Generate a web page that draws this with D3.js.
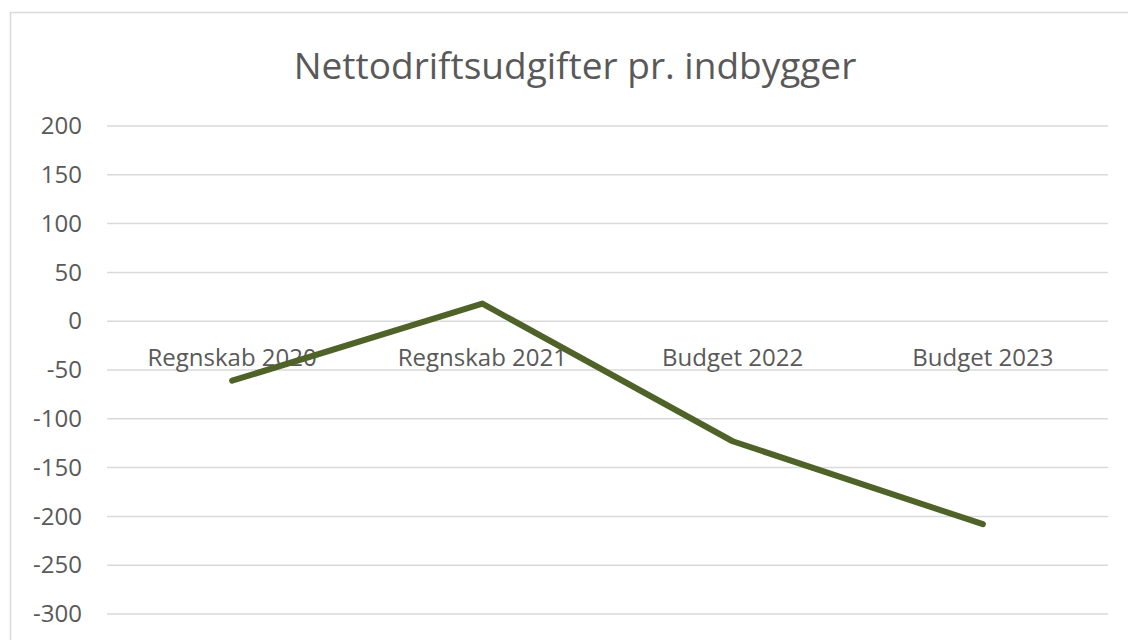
<!DOCTYPE html>
<html>
<head>
<meta charset="utf-8">
<script src="https://cdn.jsdelivr.net/npm/d3@7"></script>
<style>
  body { margin: 0; background: #fff; }
  text { font-family: "Open Sans", "Noto Sans", sans-serif; fill: #595959; }
</style>
</head>
<body>
<div id="chart"></div>
<script>
// data
var categories = ["Regnskab 2020", "Regnskab 2021", "Budget 2022", "Budget 2023"];
var values = [-61, 18, -123, -208];
var yTicks = [200, 150, 100, 50, 0, -50, -100, -150, -200, -250, -300];
var title = "Nettodriftsudgifter pr. indbygger";

var width = 1128,
    height = 640;
var margin = {top: 126, right: 20, bottom: 26, left: 107};
var plotW = 1108 - margin.left,
    plotH = 614 - margin.top;

var svg = d3.select("#chart")
  .append("svg")
    .attr("width", width)
    .attr("height", height);

// chart frame
svg.append("rect")
  .attr("x", 10.5).attr("y", 12.5)
  .attr("width", 1130).attr("height", 640)
  .attr("fill", "none")
  .attr("stroke", "#d9d9d9")
  .attr("stroke-width", 1.5);

svg.append("text")
  .attr("x", 575)
  .attr("y", 79)
  .attr("text-anchor", "middle")
  .style("font-size", "37px")
  .text(title);

var g = svg.append("g")
  .attr("transform", "translate(" + margin.left + "," + margin.top + ")");

var xScale = d3.scaleBand()
  .domain(categories)
  .range([0, plotW]);

var yScale = d3.scaleLinear()
  .domain([-300, 200])
  .range([plotH, 0]);

// gridlines
g.selectAll(".grid")
  .data(yTicks)
  .enter()
  .append("line")
    .attr("class", "grid")
    .attr("x1", 0)
    .attr("x2", plotW)
    .attr("y1", function(d) { return yScale(d); })
    .attr("y2", function(d) { return yScale(d); })
    .attr("stroke", "#d9d9d9")
    .attr("stroke-width", 1.5);

// y axis labels (plain hyphen for negatives, like the original)
var yAxis = g.append("g")
  .call(d3.axisLeft(yScale)
    .tickValues(yTicks)
    .tickFormat(function(d) { return String(d); })
    .tickSize(0)
    .tickPadding(25));
yAxis.select(".domain").remove();
yAxis.selectAll("text")
  .style("font-size", "24px")
  .style("font-family", "\"Open Sans\", \"Noto Sans\", sans-serif")
  .attr("fill", "#595959");

// category labels sit at the zero line
var xAxis = g.append("g")
  .attr("transform", "translate(0," + yScale(0) + ")")
  .call(d3.axisBottom(xScale).tickSize(0).tickPadding(28));
xAxis.select(".domain").remove();
xAxis.selectAll("text")
  .style("font-size", "24px")
  .style("font-family", "\"Open Sans\", \"Noto Sans\", sans-serif")
  .attr("fill", "#595959");

var line = d3.line()
  .x(function(d, i) { return xScale(categories[i]) + xScale.bandwidth() / 2; })
  .y(function(d) { return yScale(d); });

g.append("path")
  .datum(values)
  .attr("fill", "none")
  .attr("stroke", "#4f6228")
  .attr("stroke-width", 6)
  .attr("stroke-linecap", "round")
  .attr("stroke-linejoin", "round")
  .attr("d", line);
</script>
</body>
</html>
